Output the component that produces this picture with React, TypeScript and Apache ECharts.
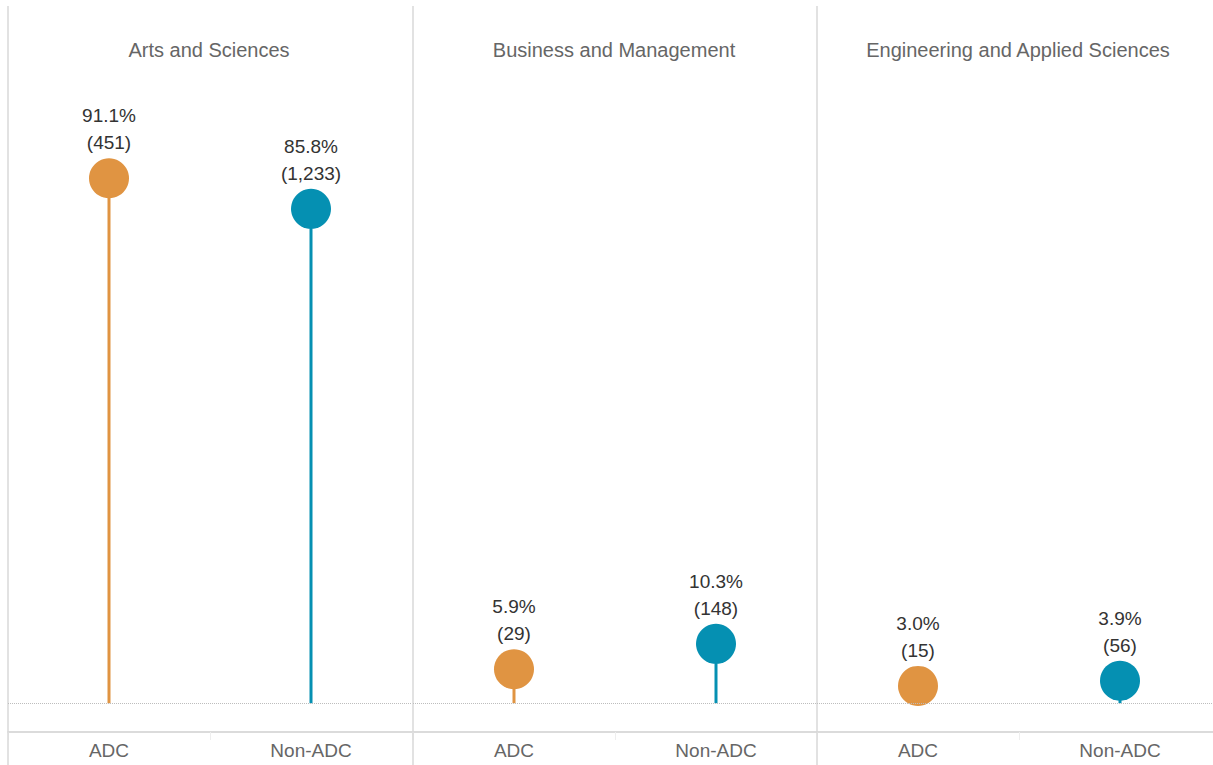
import React, { useEffect, useRef } from "react";
import * as echarts from "echarts";

const panels = ["Arts and Sciences", "Business and Management", "Engineering and Applied Sciences"];
const categories = ["ADC", "Non-ADC"];
const adcPct = [91.1, 5.9, 3.0];
const nonAdcPct = [85.8, 10.3, 3.9];
const adcCount = [451, 29, 15];
const nonAdcCount = [1233, 148, 56];

const ORANGE = "#E09442";
const TEAL = "#0590B2";
const FONT = "Liberation Sans, Arial, sans-serif";

const panelLeft = [8, 413, 817];
const panelWidth = 404;

export default function App() {
  const ref = useRef<HTMLDivElement>(null);
  useEffect(() => {
    if (!ref.current) return;
    const chart = echarts.init(ref.current, undefined, { renderer: "svg" });
    const grids: any[] = [];
    const xAxes: any[] = [];
    const yAxes: any[] = [];
    const series: any[] = [];
    const graphics: any[] = [];
    panels.forEach((p, i) => {
      grids.push({ left: panelLeft[i], width: panelWidth, top: 6, bottom: 33, containLabel: false });
      xAxes.push({
        type: "category",
        gridIndex: i,
        data: categories,
        axisLine: { show: true, onZero: false, lineStyle: { color: "#cfcfcf", width: 1.5 } },
        axisTick: { show: true, length: 8, lineStyle: { color: "#eeeeee" } },
        axisLabel: { color: "#666", fontSize: 19, fontFamily: FONT, margin: 9 },
      });
      yAxes.push({
        type: "value",
        gridIndex: i,
        min: -5,
        max: 121,
        show: false,
        splitLine: { show: false },
      });
      const counts = [adcCount[i], nonAdcCount[i]];
      const vals = [adcPct[i], nonAdcPct[i]];
      const colors = [ORANGE, TEAL];
      series.push({
        type: "bar",
        xAxisIndex: i,
        yAxisIndex: i,
        barWidth: 3,
        z: 2,
        data: vals.map((v, k) => ({ value: v, itemStyle: { color: colors[k] } })),
      });
      series.push({
        type: "scatter",
        xAxisIndex: i,
        yAxisIndex: i,
        symbolSize: 40,
        z: 3,
        data: vals.map((v, k) => ({ value: v, itemStyle: { color: colors[k], opacity: 1 } })),
        label: {
          show: true,
          position: "top",
          distance: 2,
          color: "#333",
          fontSize: 19,
          fontFamily: FONT,
          lineHeight: 27,
          align: "center",
          formatter: (prm: any) =>
            `${vals[prm.dataIndex].toFixed(1)}%\n(${counts[prm.dataIndex].toLocaleString("en-US")})`,
        },
        markLine: {
          silent: true,
          symbol: "none",
          label: { show: false },
          lineStyle: { color: "#bdbdbd", type: "dotted", width: 1 },
          data: [{ yAxis: 0 }],
        },
      });
      graphics.push({
        type: "text",
        x: panelLeft[i] + panelWidth / 2 - 1,
        y: 50,
        style: {
          text: p,
          fill: "#666",
          fontSize: 20,
          fontFamily: FONT,
          textAlign: "center",
          textVerticalAlign: "middle",
        },
        z: 5,
      });
      graphics.push({
        type: "line",
        shape: { x1: panelLeft[i], y1: 6, x2: panelLeft[i], y2: 765 },
        style: { stroke: "#d9d9d9", lineWidth: 1.5 },
        z: 1,
      });
    });
    chart.setOption({
      animation: false,
      backgroundColor: "#ffffff",
      grid: grids,
      xAxis: xAxes,
      yAxis: yAxes,
      series,
      graphic: graphics,
    });
    return () => chart.dispose();
  }, []);
  return (
    <div
      ref={ref}
      style={{ position: "fixed", left: 0, top: 0, width: 1225, height: 765 }}
    />
  );
}
